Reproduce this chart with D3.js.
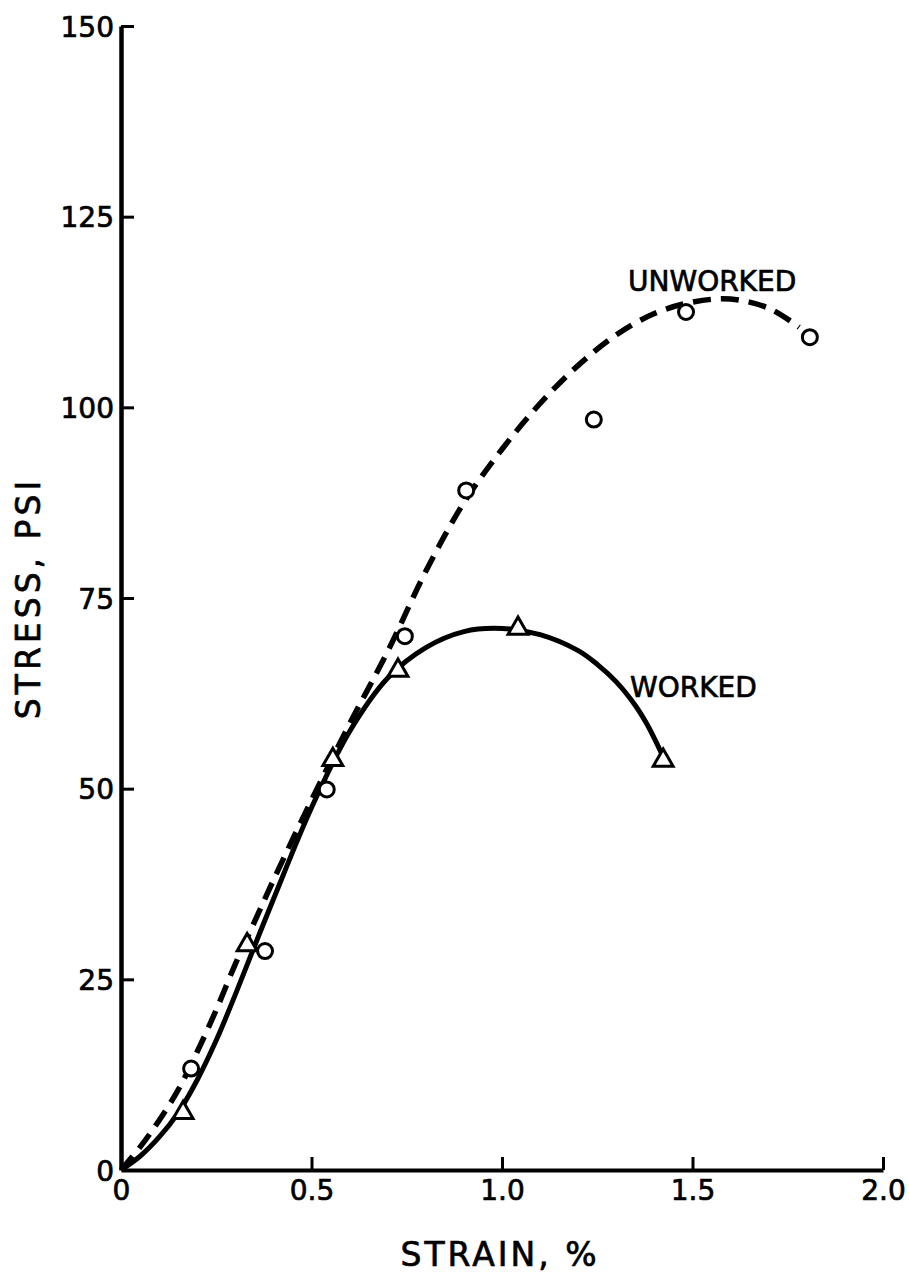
<!DOCTYPE html>
<html>
<head>
<meta charset="utf-8">
<script src="https://cdn.jsdelivr.net/npm/d3@7"></script>
<style>
  body { margin: 0; background: #fff; }
  svg text { font-family: "DejaVu Sans", "Liberation Sans", sans-serif; fill: #000; stroke: #000; stroke-width: 0.7px; }
</style>
</head>
<body>
<svg id="chart"></svg>
<script>
// measured points
let unworkedX = [0.184, 0.378, 0.54, 0.745, 0.906, 1.241, 1.483, 1.808];
let unworkedY = [13.3, 28.7, 49.9, 70, 89.1, 98.4, 112.5, 109.2];
let workedX = [0.163, 0.331, 0.556, 0.727, 1.042, 1.423];
let workedY = [7.5, 29.5, 53.8, 65.5, 71, 53.7];

// hand-drawn curves
let unworkedCurveX = [0, 0.05, 0.1, 0.15, 0.2, 0.25, 0.3, 0.35, 0.4, 0.5, 0.6, 0.7, 0.8, 0.9, 1.0, 1.1, 1.2, 1.3, 1.4, 1.5, 1.6, 1.7, 1.78];
let unworkedCurveY = [0, 3, 6.5, 10.5, 15.5, 21, 27, 32.5, 38, 48.5, 58.5, 68, 78.5, 87.5, 94.5, 100.5, 105.5, 109.5, 112.3, 113.8, 114.2, 113, 110.5];
let workedCurveX = [0, 0.05, 0.1, 0.15, 0.2, 0.25, 0.3, 0.35, 0.4, 0.5, 0.6, 0.7, 0.8, 0.9, 1.0, 1.1, 1.2, 1.25, 1.3, 1.35, 1.38, 1.42];
let workedCurveY = [0, 1.8, 4.3, 7.5, 11.8, 17, 23, 29.3, 35.5, 47.5, 57.5, 64.5, 68.5, 70.6, 71, 70.2, 68.1, 66.3, 64, 60.9, 58.5, 54.5];

let xTicks = [0, 0.5, 1.0, 1.5, 2.0];
let xTickLabels = ["0", "0.5", "1.0", "1.5", "2.0"];
let yTicks = [0, 25, 50, 75, 100, 125, 150];

let w = 909;
let h = 1276;

let svg = d3.select("#chart").attr("width", w).attr("height", h);

let xScale = d3.scaleLinear().domain([0, 2]).range([121, 883]);
let yScale = d3.scaleLinear().domain([0, 150]).range([1170, 26]);

// axes, ticks point inward
let yAxis = d3.axisLeft(yScale)
  .tickValues(yTicks)
  .tickSizeInner(-13)
  .tickSizeOuter(0)
  .tickPadding(7)
  .tickFormat(d3.format("d"));
let xAxis = d3.axisBottom(xScale)
  .tickValues(xTicks)
  .tickSizeInner(-13)
  .tickSizeOuter(0)
  .tickPadding(10)
  .tickFormat((d, i) => xTickLabels[i]);

let gy = svg.append("g")
  .attr("transform", `translate(${xScale(0)},0)`)
  .call(yAxis);
gy.select(".domain").attr("stroke-width", 4.5);
gy.selectAll(".tick line").attr("stroke-width", 3);
gy.selectAll(".tick").filter((d) => d === 0).select("line").remove();
gy.selectAll(".tick text")
  .attr("font-size", 28)
  .attr("dy", "0.36em");

let gx = svg.append("g")
  .attr("transform", `translate(0,${yScale(0)})`)
  .call(xAxis);
gx.select(".domain").attr("stroke-width", 4);
gx.selectAll(".tick line").attr("stroke-width", 3);
gx.selectAll(".tick text").attr("font-size", 28);
gx.selectAll(".tick").filter((d) => d === 0).select("line").remove();

// axis titles
svg.append("text")
  .attr("transform", `translate(40,${yScale(75)}) rotate(-90)`)
  .attr("text-anchor", "middle")
  .attr("font-size", 33)
  .attr("letter-spacing", 4)
  .text("STRESS, PSI");
svg.append("text")
  .attr("x", 500)
  .attr("y", 1266)
  .attr("text-anchor", "middle")
  .attr("font-size", 33)
  .attr("letter-spacing", 3)
  .text("STRAIN, %");

// curves
let line = d3.line()
  .x((d) => xScale(d[0]))
  .y((d) => yScale(d[1]))
  .curve(d3.curveCatmullRom.alpha(0.5));

svg.append("path")
  .datum(workedCurveX.map((v, i) => [v, workedCurveY[i]]))
  .attr("d", line)
  .attr("fill", "none")
  .attr("stroke", "#000")
  .attr("stroke-width", 5);

svg.append("path")
  .datum(unworkedCurveX.map((v, i) => [v, unworkedCurveY[i]]))
  .attr("d", line)
  .attr("fill", "none")
  .attr("stroke", "#000")
  .attr("stroke-width", 5.5)
  .attr("stroke-dasharray", "18,10");

// markers
svg.selectAll("circle.unworked")
  .data(unworkedX.map((v, i) => [v, unworkedY[i]]))
  .enter()
  .append("circle")
  .attr("class", "unworked")
  .attr("cx", (d) => xScale(d[0]))
  .attr("cy", (d) => yScale(d[1]))
  .attr("r", 7.5)
  .attr("fill", "#fff")
  .attr("stroke", "#000")
  .attr("stroke-width", 3);

let tri = d3.symbol().type(d3.symbolTriangle).size(170);
svg.selectAll("path.worked")
  .data(workedX.map((v, i) => [v, workedY[i]]))
  .enter()
  .append("path")
  .attr("class", "worked")
  .attr("d", tri)
  .attr("transform", (d) => `translate(${xScale(d[0])},${yScale(d[1])})`)
  .attr("fill", "#fff")
  .attr("stroke", "#000")
  .attr("stroke-width", 3);

// curve labels
svg.append("text")
  .attr("x", 628)
  .attr("y", 291)
  .attr("font-size", 28)
  .text("UNWORKED");
svg.append("text")
  .attr("x", 630)
  .attr("y", 697)
  .attr("font-size", 28)
  .text("WORKED");
</script>
</body>
</html>
